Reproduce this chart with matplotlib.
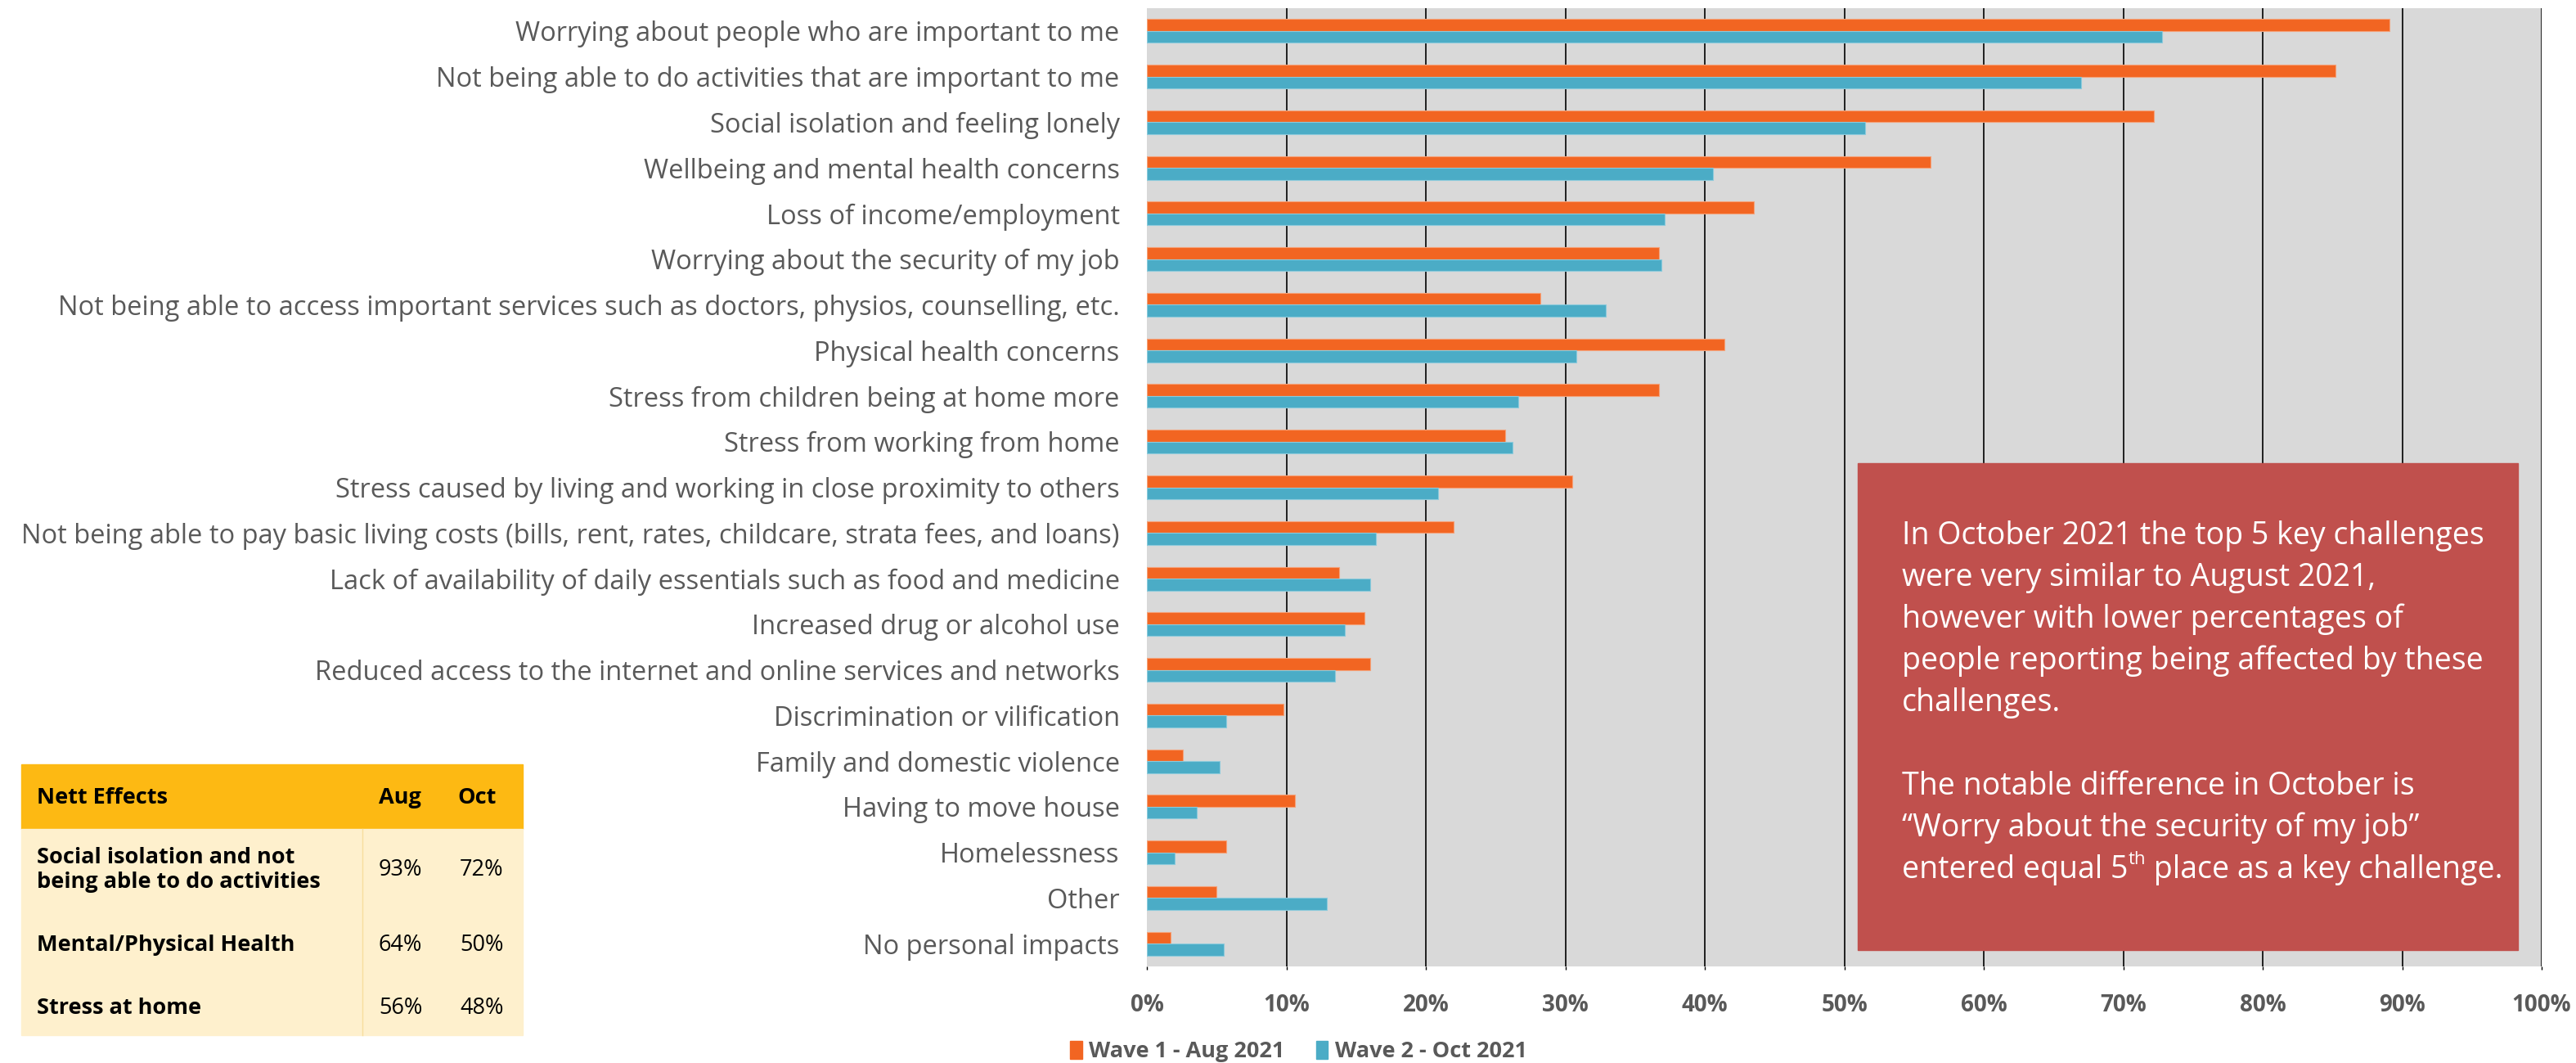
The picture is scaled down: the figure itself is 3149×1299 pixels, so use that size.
import numpy as np
import matplotlib
matplotlib.use("Agg")
import matplotlib.pyplot as plt
from matplotlib.patches import Rectangle, Patch

plt.rcParams["font.family"] = ["Open Sans", "DejaVu Sans"]

# --- Données ---
categories = [
    "Worrying about people who are important to me",
    "Not being able to do activities that are important to me",
    "Social isolation and feeling lonely",
    "Wellbeing and mental health concerns",
    "Loss of income/employment",
    "Worrying about the security of my job",
    "Not being able to access important services such as doctors, physios, counselling, etc.",
    "Physical health concerns",
    "Stress from children being at home more",
    "Stress from working from home",
    "Stress caused by living and working in close proximity to others",
    "Not being able to pay basic living costs (bills, rent, rates, childcare, strata fees, and loans)",
    "Lack of availability of daily essentials such as food and medicine",
    "Increased drug or alcohol use",
    "Reduced access to the internet and online services and networks",
    "Discrimination or vilification",
    "Family and domestic violence",
    "Having to move house",
    "Homelessness",
    "Other",
    "No personal impacts",
]
wave1 = [89.1, 85.2, 72.2, 56.2, 43.5, 36.7, 28.2, 41.4, 36.7, 25.7, 30.5,
         22.0, 13.8, 15.6, 16.0, 9.8, 2.6, 10.6, 5.7, 5.0, 1.7]
wave2 = [72.8, 67.0, 51.5, 40.6, 37.1, 36.9, 32.9, 30.8, 26.6, 26.2, 20.9,
         16.4, 16.0, 14.2, 13.5, 5.7, 5.2, 3.6, 2.0, 12.9, 5.5]
series_names = ["Wave 1 - Aug 2021", "Wave 2 - Oct 2021"]
x_ticks = [0, 10, 20, 30, 40, 50, 60, 70, 80, 90, 100]

table_header = ["Nett Effects", "Aug", "Oct"]
table_effects = ["Social isolation and not\nbeing able to do activities",
                 "Mental/Physical Health", "Stress at home"]
table_aug = ["93%", "64%", "56%"]
table_oct = ["72%", "50%", "48%"]

note_lines = [
    "In October 2021 the top 5 key challenges",
    "were very similar to August 2021,",
    "however with lower percentages of",
    "people reporting being affected by these",
    "challenges.",
    "",
    "The notable difference in October is",
    "\u201cWorry about the security of my job\u201d",
]

ORANGE = "#F26522"
BLUE = "#4BACC6"
GREY_TXT = "#595959"

W, H = 3149, 1299
fig = plt.figure(figsize=(W / 100, H / 100), dpi=100)

# --- Graphique principal ---
ax = fig.add_axes([1402 / W, 1 - 1181 / H, (3107 - 1402) / W, (1181 - 10) / H])
ax.set_facecolor("#D9D9D9")
y = np.arange(len(categories))
h = 0.26
ax.barh(y - h / 2, wave1, height=h, color=ORANGE, edgecolor="#F4A27A", linewidth=0.8,
        label=series_names[0], zorder=3)
ax.barh(y + h / 2, wave2, height=h, color=BLUE, edgecolor="#8CCADB", linewidth=0.8,
        label=series_names[1], zorder=3)
ax.set_ylim(len(categories) - 0.5, -0.5)
ax.set_xlim(0, 100)
for v in x_ticks[1:]:
    ax.axvline(v, color="black", lw=1.2, zorder=2)
for s in ax.spines.values():
    s.set_visible(False)
ax.set_yticks(y)
ax.set_yticklabels(categories, fontsize=23.5, color=GREY_TXT)
ax.tick_params(axis="y", length=0, pad=24)
ax.set_xticks(x_ticks)
ax.set_xticklabels([f"{v}%" for v in x_ticks], fontsize=20, fontweight="bold", color=GREY_TXT)
ax.tick_params(axis="x", length=3, width=1, color="black", pad=21)

fig.legend(handles=[Patch(color=ORANGE), Patch(color=BLUE)], labels=series_names,
           loc="center left", bbox_to_anchor=(1284 / W, 1 - 1285 / H), ncol=2,
           frameon=False, prop={"weight": "bold", "size": 19.5},
           handlelength=0.55, handleheight=0.9, handletextpad=0.3, columnspacing=1.4,
           labelcolor=GREY_TXT)

# --- Encadré rouge ---
bx = fig.add_axes([0, 0, 1, 1], facecolor="none")
bx.set_xlim(0, W)
bx.set_ylim(H, 0)
bx.axis("off")
bx.add_patch(Rectangle((2271, 566), 3078 - 2271, 1161 - 566, color="#C0504D", zorder=1))
line_y = [655, 706, 757, 808, 859, 910, 961, 1012]
for txt, yy in zip(note_lines, line_y):
    bx.text(2325, yy, txt, fontsize=27, color="white", va="center", ha="left")
t1 = bx.text(2325, 1063, "entered equal 5", fontsize=27, color="white", va="center", ha="left")
t2 = bx.annotate("th", xy=(1, 0.55), xycoords=t1, fontsize=16, color="white",
                 va="bottom", ha="left")
bx.annotate(" place as a key challenge.", xy=(1, 0), xycoords=(t2, t1), fontsize=27,
            color="white", va="bottom", ha="left")

# --- Tableau des effets ---
bx.add_patch(Rectangle((26, 934), 639 - 26, 1013 - 934, color="#FDB913", zorder=1))
bx.add_patch(Rectangle((26, 1013), 639 - 26, 1265 - 1013, color="#FEF0CD", zorder=1))
bx.plot([443, 443], [1013, 1265], color="#F8DE9E", lw=1, zorder=2)
bx.text(45, 975, table_header[0], fontsize=19.5, fontweight="bold", va="center")
bx.text(463, 975, table_header[1], fontsize=19.5, fontweight="bold", va="center")
bx.text(559, 975, table_header[2], fontsize=19.5, fontweight="bold", va="center")
for eff, a, o, yy in zip(table_effects, table_aug, table_oct, [1063, 1155, 1232]):
    bx.text(45, yy, eff, fontsize=19.5, fontweight="bold", va="center", linespacing=1.2)
    bx.text(463, yy, a, fontsize=19.5, va="center")
    bx.text(562, yy, o, fontsize=19.5, va="center")

fig.savefig("out.png", dpi=100)
